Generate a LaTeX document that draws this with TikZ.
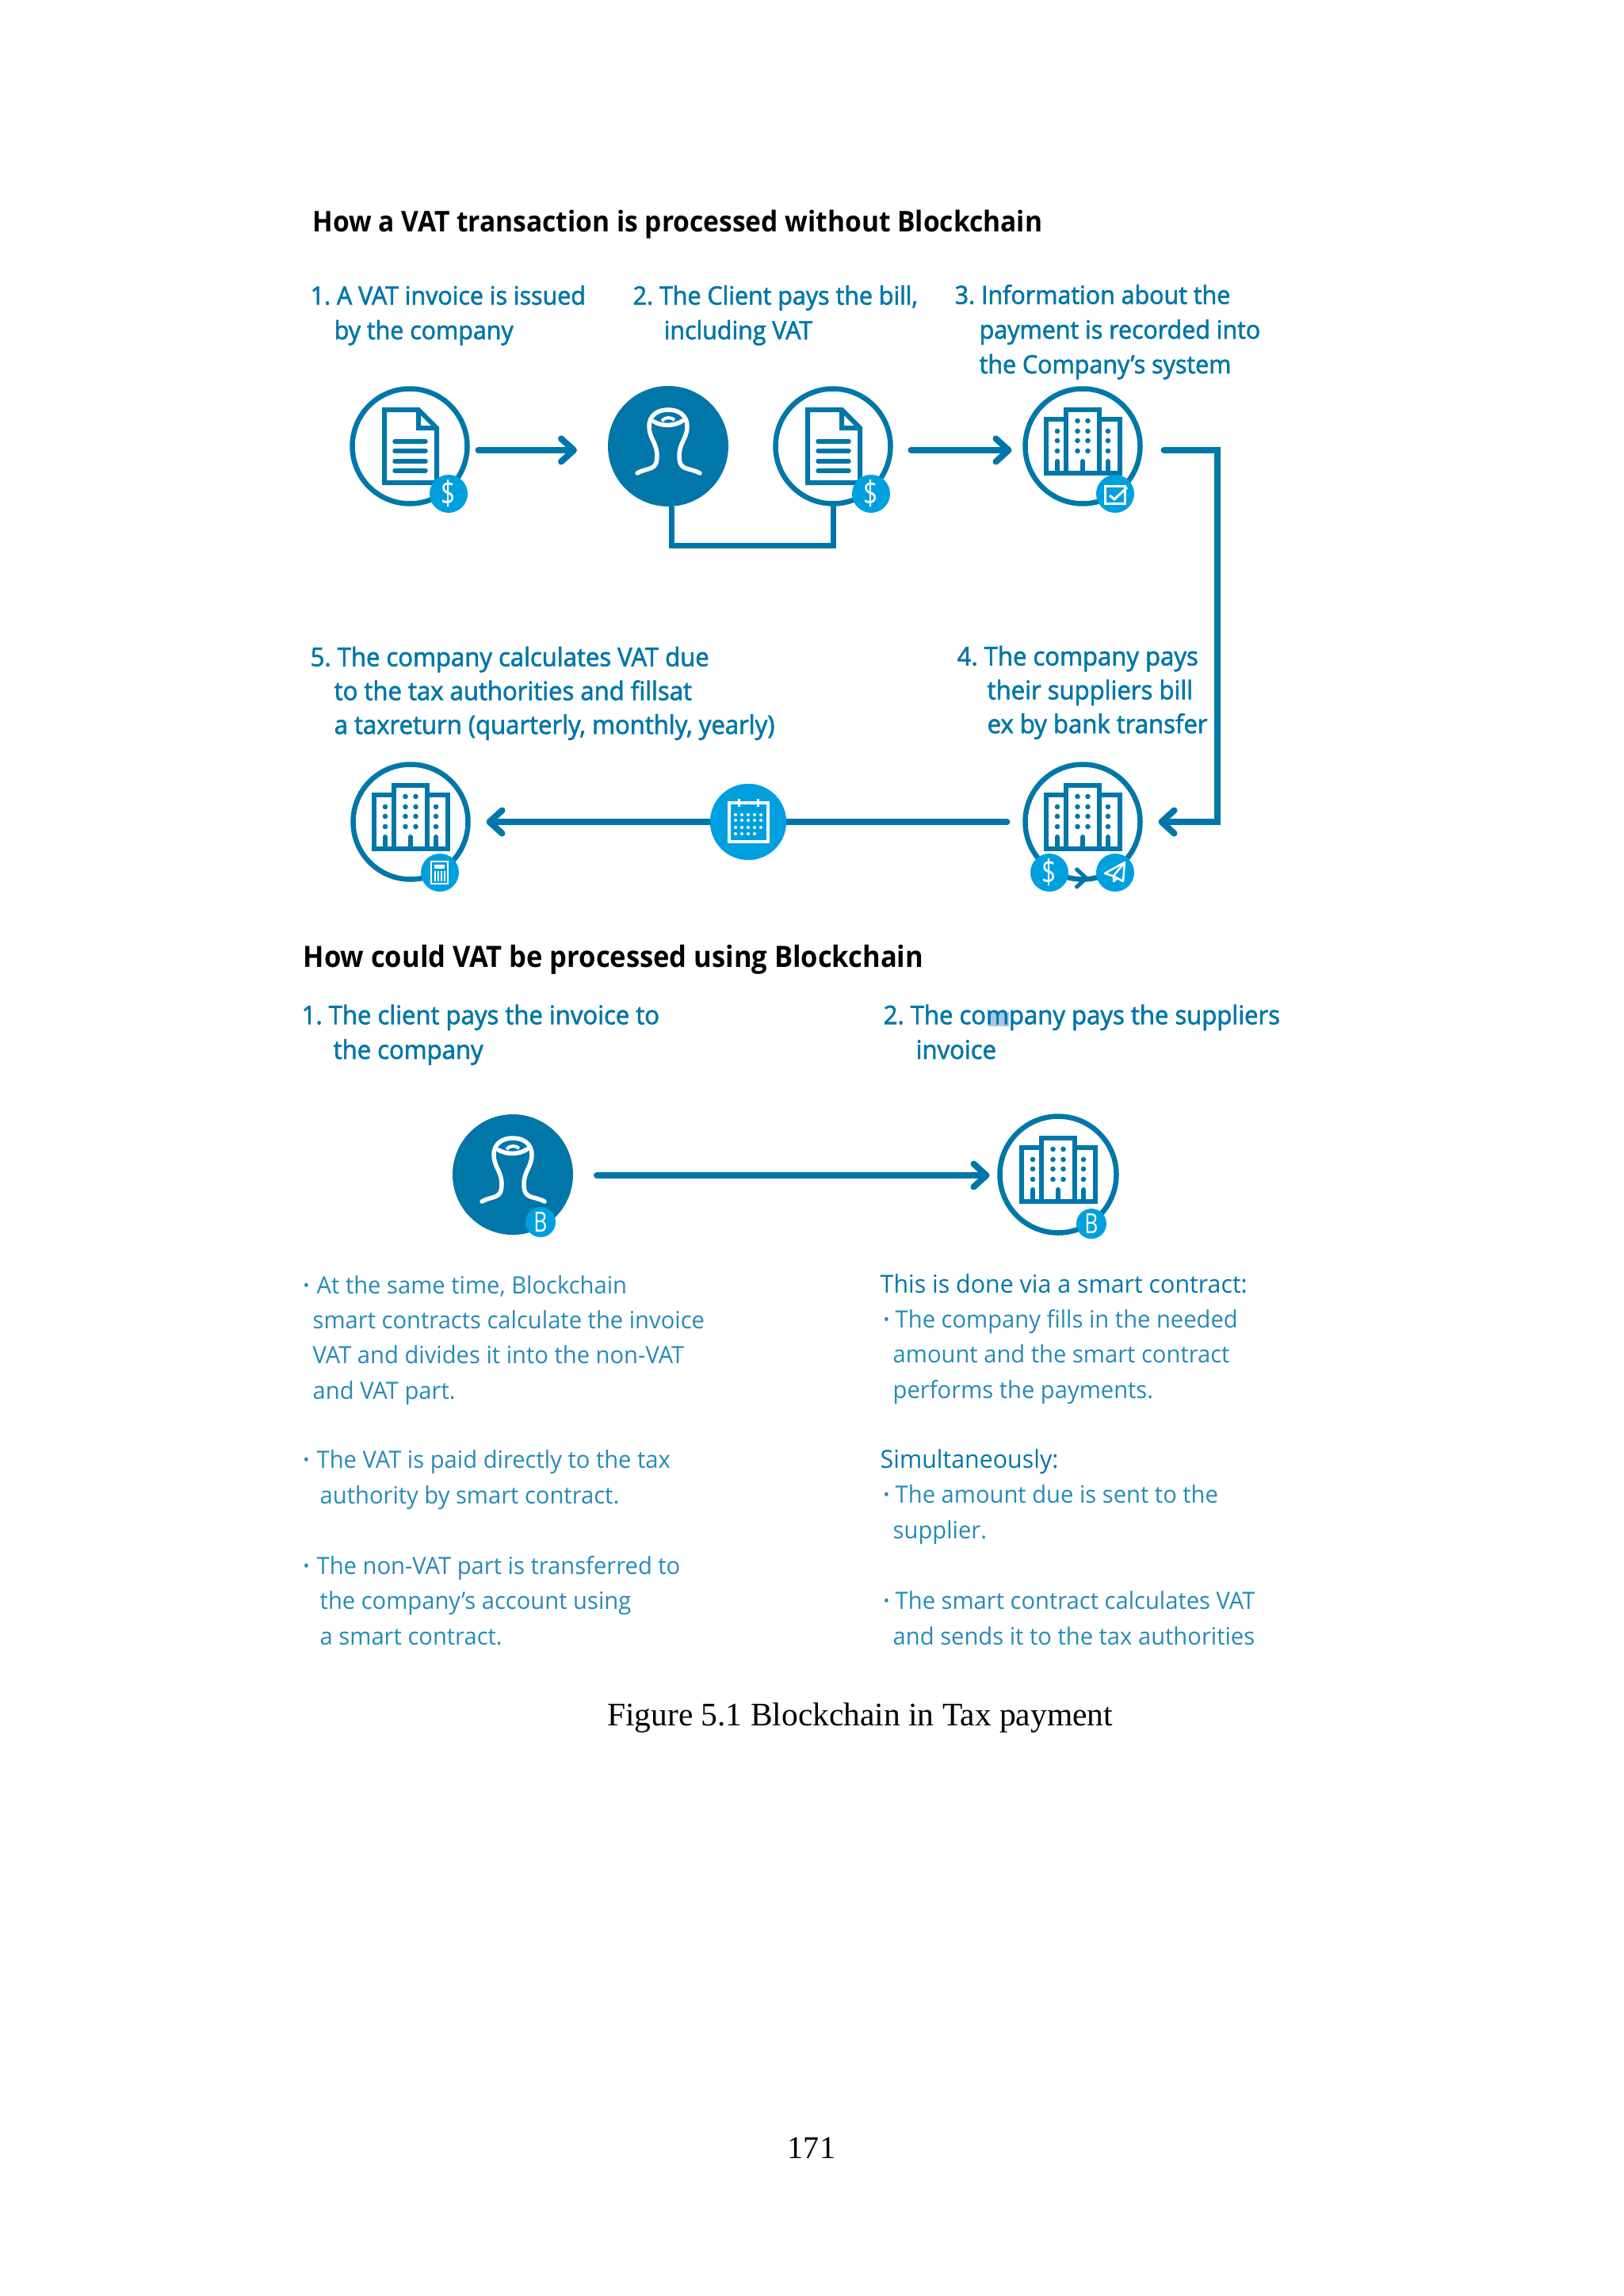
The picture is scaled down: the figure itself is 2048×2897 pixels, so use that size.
\documentclass[tikz,border=0pt]{standalone}
\usepackage{fontspec}
\setmainfont{Liberation Serif}
\newfontfamily\oshead{Open Sans}[FakeStretch=0.93]
\newfontfamily\osstep{Open Sans}[FakeBold=2, FakeStretch=0.96]
\newfontfamily\osbody{Open Sans}[FakeStretch=0.97]
\newfontfamily\osglyph{Open Sans}[FakeStretch=0.75]
\usepackage{xcolor}
\usetikzlibrary{arrows.meta,positioning}
\definecolor{vatblue}{RGB}{0,119,168}
\definecolor{badgeblue}{RGB}{0,160,222}
\definecolor{selblue}{RGB}{170,200,230}
\newlength{\px}
\setlength{\px}{0.01cm}
\newcommand{\blt}[1]{\makebox[#1\px][l]{\raisebox{.12em}{\fontsize{6}{6}\selectfont •}}}
\newcommand{\leadline}[1]{\textcolor{vatblue}{\fontsize{8.9}{12.55}\selectfont #1}}
\tikzset{
  ring/.style={circle, draw=vatblue, line width=6.5\px, fill=white, minimum size=145\px, inner sep=0pt, outer sep=0pt},
  disc/.style={circle, fill=vatblue, minimum size=152\px, inner sep=0pt, outer sep=0pt},
  badge/.style={circle, fill=badgeblue, minimum size=#1\px, inner sep=0pt, text=white,
                font=\osglyph\fontsize{12}{12}\selectfont},
  badge/.default=48,
  calbadge/.style={circle, fill=badgeblue, minimum size=96\px, inner sep=0pt, outer sep=0pt},
  arr/.style={line width=8\px, vatblue, line cap=round,
              -{Straight Barb[length=1.6mm, width=2.9mm, line width=0.08cm, round]}},
  conn/.style={line width=8\px, vatblue, line cap=round},
  heading/.style={anchor=base west, inner sep=0pt, font=\oshead\bfseries\fontsize{#1}{12}\selectfont},
  heading/.default=10.26,
  steplbl/.style={anchor=base west, inner sep=0pt, align=left, text=vatblue,
                  font=\osstep\fontsize{#1}{12.45}\selectfont\frenchspacing},
  steplbl/.default=9,
  bodytxt/.style={anchor=base west, inner sep=0pt, align=left, text=vatblue!85,
                  font=\osbody\fontsize{8.55}{12.55}\selectfont\frenchspacing},
  pics/building/.style={code={
    \draw[vatblue, line width=6\px, line join=miter]
      (-46,34) rectangle (47,-34);
    \draw[vatblue, line width=6\px, fill=white] (-21,34) rectangle (21,-46);
    \foreach \dy in {-32,-19,-7,6} {
      \fill[vatblue] (-6.5,\dy) circle (3.3) (6.5,\dy) circle (3.3);
    }
    \foreach \dy in {-19,-7,6} {
      \fill[vatblue] (-32,\dy) circle (3.3) (32,\dy) circle (3.3);
    }
    \foreach \dx in {-32,0,32} {
      \draw[vatblue, line width=6\px, line cap=round] (\dx,34) -- (\dx,19);
    }
  }},
  pics/invoice/.style={code={
    \draw[vatblue, line width=6\px, line join=miter]
      (-32,-46) -- (11,-46) -- (34,-23) -- (34,46) -- (-32,46) -- cycle
      (11,-46) -- (11,-23) -- (34,-23);
    \foreach \dy in {-6,6,19,31} {
      \draw[vatblue, line width=5.5\px, line cap=round] (-19,\dy) -- (20,\dy);
    }
  }},
  pics/person/.style={code={
    \draw[white, line width=5.5\px, line cap=round]
      (-39,34) .. controls (-25,26) and (-14,32) .. (-14,12)
      .. controls (-14,-4) and (-24,-10) .. (-24,-25)
      .. controls (-24,-40) and (-12,-46) .. (0,-46)
      .. controls (12,-46) and (24,-40) .. (24,-25)
      .. controls (24,-10) and (14,-4) .. (14,12)
      .. controls (14,32) and (25,26) .. (40,34)
      (-18,-31) .. controls (-8,-25) and (8,-25) .. (18,-32);
    \draw[white, line width=4\px] (-8,-32) .. controls (-4,-37) and (4,-37) .. (8,-33);
  }},
  pics/checkmark/.style={code={
    \draw[white, line width=3\px] (-13,-10) rectangle (12,12);
    \draw[white, line width=3\px] (-7,2) -- (-1,7) -- (15,-8);
  }},
  pics/plane/.style={code={
    \draw[white, line width=2.5\px, line join=round]
      (-13,1) -- (12,-13) -- (10,11) -- (-1,5) -- cycle
      (12,-13) -- (-2,4) -- (-2,11) -- (3,7);
  }},
  pics/calculator/.style={code={
    \draw[white, line width=2.5\px] (-11,-14) rectangle (10,14);
    \fill[white] (-7,-10) rectangle (6,-5);
    \foreach \dx in {-6,-2,2,6} {
      \draw[white, line width=1.6\px] (\dx,-2) -- (\dx,11);
    }
  }},
  pics/calendar/.style={code={
    \draw[white, line width=3.5\px] (-24,-24) rectangle (25,25);
    \draw[white, line width=3\px] (-12,-29) -- (-12,-19) (12,-29) -- (12,-19);
    \foreach \dy in {-9,-2,7} {
      \foreach \dx in {-16,-8,0,8,16} {
        \fill[white] (\dx,\dy) circle (2);
      }
    }
    \foreach \dx in {-16,-8,0,8} {
      \fill[white] (\dx,15) circle (2);
    }
  }},
}
\begin{document}
\begin{tikzpicture}[x=0.01cm, y=-0.01cm]
  \useasboundingbox (0,0) rectangle (2048,2897);
  \fill[white] (0,0) rectangle (2048,2897);

  % without blockchain
  \node[heading] (headA) at (394,292) {How a VAT transaction is processed without Blockchain};

  \node[steplbl] (labA) at (391,428) {1. A VAT invoice is issued\\\hspace*{30\px}by the company};
  \node[steplbl] (labB) at (798,428) {2. The Client pays the bill,\\\hspace*{39\px}including VAT};
  \node[steplbl] (labC) at (1204,471) {3. Information about the\\\hspace*{31\px}payment is recorded into\\\hspace*{31\px}the Company’s system};
  \node[steplbl=9.2] (labD) at (1207,925) {4. The company pays\\[-.3pt]\hspace*{38\px}their suppliers bill\\[-.3pt]\hspace*{38\px}ex by bank transfer};
  \node[steplbl=9.2] (labE) at (391,926) {5. The company calculates VAT due\\[-.3pt]\hspace*{30\px}to the tax authorities and fillsat\\[-.3pt]\hspace*{30\px}a taxreturn (quarterly, monthly, yearly)};

  \node[ring] (docA) at (517,563) {};
  \node[disc] (client) at (843,563) {};
  \node[ring] (docB) at (1051,563) {};
  \node[ring] (compA) at (1366,563) {};
  \node[ring] (compB) at (1366,1037) {};
  \node[calbadge] (cal) at (944,1037) {};
  \node[ring] (compC) at (518,1037) {};

  \pic at (docA) {invoice};
  \pic at (client) {person};
  \pic at (docB) {invoice};
  \pic at (compA) {building};
  \pic at (compB) {building};
  \pic at (compC) {building};

  \draw[arr] ([shift={(14,5)}]docA.east) -- ([shift={(-39,5)}]client.west);
  \draw[arr] ([shift={(26,5)}]docB.east) -- ([shift={(-17,5)}]compA.west);
  \draw[conn, line cap=butt, line width=7\px] ([xshift=4\px]client.south) -- ++(0,49) -| (docB.south);
  \draw[arr] ([shift={(30,5)}]compA.east) -| ([xshift=97\px]compB.east) -- ([xshift=23\px]compB.east);
  \draw[conn] ([xshift=-23\px]compB.west) -- (cal);
  \draw[arr] (cal) -- ([xshift=23\px]compC.east);
  \node[calbadge] at (cal) {};
  \pic at (cal) {calendar};

  \node[badge] (dolA) at (566,623) {\$};
  \node[badge] (dolB) at (1099,623) {\$};
  \node[badge] (chk) at (1407,623) {};
  \node[badge] (dolC) at (1324,1101) {\$};
  \node[badge] (send) at (1407,1101) {};
  \node[badge] (calc) at (555,1101) {};
  \pic at (chk) {checkmark};
  \pic at (send) {plane};
  \pic at (calc) {calculator};

  \coordinate (tipS) at (1373,1108);
  \draw[line width=5\px, vatblue] ([yshift=-7\px]dolC.east) -- ([yshift=-7\px]send.west);
  \draw[line width=5\px, vatblue, -{Straight Barb[length=1.2mm, width=2.2mm, line width=0.05cm, round]}] ([yshift=-7\px]dolC.east) -- (tipS);

  % using blockchain
  \node[heading=10.55] (headB) at (382,1220) {How could VAT be processed using Blockchain};

  \fill[selblue] (1247,1277) rectangle (1273,1295);
  \node[steplbl=9.2] (labF) at (380,1336) {1. The client pays the invoice to\\\hspace*{40\px}the company};
  \node[steplbl=9.2] (labG) at (1114,1336) {2. The company pays the suppliers\\\hspace*{41\px}invoice};

  \node[disc] (clientB) at (647,1482) {};
  \node[ring, minimum size=147\px] (compD) at (1335,1482) {};
  \pic at (clientB) {person};
  \pic at (compD) {building};
  \node[badge=38, font=\osglyph\fontsize{10}{10}\selectfont] (btcA) at (682,1542) {B};
  \node[badge=38, font=\osglyph\fontsize{10}{10}\selectfont] (btcB) at (1377,1544) {B};
  \draw[arr] ([shift={(30,1)}]clientB.east) -- ([shift={(-13,1)}]compD.west);

  \node[bodytxt] (txtA) at (382,1765) {\blt{17}At the same time, Blockchain\\\hspace*{12\px}smart contracts calculate the invoice\\\hspace*{12\px}VAT and divides it into the non-VAT\\\hspace*{12\px}and VAT part.};
  \node[bodytxt] (txtB) at (382,1897) {\blt{17}The VAT is paid directly to the tax\\\hspace*{21\px}authority by smart contract.};
  \node[bodytxt] (txtC) at (382,2075) {\blt{17}The non-VAT part is transferred to\\\hspace*{21\px}the company’s account using\\\hspace*{21\px}a smart contract.};
  \node[bodytxt] (txtD) at (1110,1764) {\leadline{This is done via a smart contract:}\\\hspace*{4\px}\blt{15}The company fills in the needed\\\hspace*{16\px}amount and the smart contract\\\hspace*{16\px}performs the payments.};
  \node[bodytxt] (txtE) at (1110,1941) {\leadline{Simultaneously:}\\\hspace*{4\px}\blt{15}The amount due is sent to the\\\hspace*{16\px}supplier.};
  \node[bodytxt] (txtF) at (1110,2075) {\hspace*{4\px}\blt{15}The smart contract calculates VAT\\\hspace*{16\px}and sends it to the tax authorities};

  \node[anchor=base, inner sep=0pt, font=\fontsize{11.8}{14}\selectfont] (caption) at (1085,2177) {Figure 5.1 Blockchain in Tax payment};
  \node[anchor=base, inner sep=0pt, font=\fontsize{11.4}{14}\selectfont] (pageno) at (1024,2723) {171};
\end{tikzpicture}
\end{document}
